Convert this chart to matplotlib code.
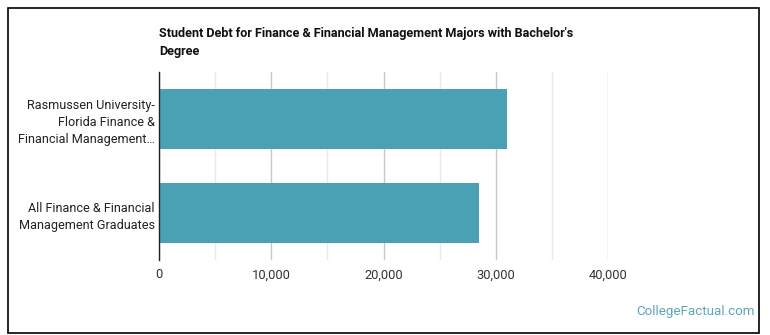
import matplotlib.pyplot as plt
from matplotlib.patches import Rectangle
from matplotlib.ticker import MultipleLocator, FuncFormatter

plt.rcParams['font.family'] = ['Roboto', 'DejaVu Sans']

# datos
etiquetas = ['Rasmussen University-\nFlorida Finance &\nFinancial Management…',
             'All Finance & Financial\nManagement Graduates']
deuda = [31000, 28500]
titulo = "Student Debt for Finance & Financial Management Majors with Bachelor's\nDegree"

W, H = 770, 335
fig = plt.figure(figsize=(W / 100, H / 100), dpi=100)
ax = fig.add_axes([159 / W, 1 - 260 / H, (608 - 159) / W, (260 - 72) / H])

pos = range(len(etiquetas))
ax.barh(pos, deuda, height=0.64, color='#4aa1b4', zorder=3)
ax.set_yticks(list(pos))
ax.set_yticklabels(etiquetas, fontsize=9.1, color='#222222', linespacing=1.4)
ax.set_ylim(1.5, -0.5)
ax.set_xlim(0, 40000)

ax.xaxis.set_major_locator(MultipleLocator(10000))
ax.xaxis.set_minor_locator(MultipleLocator(5000))
ax.xaxis.set_major_formatter(FuncFormatter(lambda v, p: f'{int(v):,}'))
ax.grid(axis='x', which='major', color='#c8c8c8', linewidth=1, zorder=0)
ax.grid(axis='x', which='minor', color='#e8e8e8', linewidth=1, zorder=0)
ax.tick_params(axis='both', which='both', length=0)
ax.tick_params(axis='x', labelsize=9.3, labelcolor='#333333', pad=6)
ax.tick_params(axis='y', pad=3)

for s in ['top', 'right', 'bottom']:
    ax.spines[s].set_visible(False)
ax.spines['left'].set_color('#222222')
ax.spines['left'].set_linewidth(1)
ax.spines['left'].set_zorder(4)

fig.text(159 / W, 1 - 27 / H, titulo, fontsize=9.1, fontweight='bold',
         va='top', ha='left', color='#111111', linespacing=1.5)
fig.text(755 / W, 1 - 312 / H, 'CollegeFactual.com', fontsize=9.6,
         color='#5aa6b8', ha='right', va='center')

fig.patches.append(Rectangle((8 / W, 1 - 333 / H), (759 - 8) / W, (333 - 8) / H,
                             transform=fig.transFigure, fill=False,
                             edgecolor='black', linewidth=1.2))

fig.savefig('out.png', dpi=100)
